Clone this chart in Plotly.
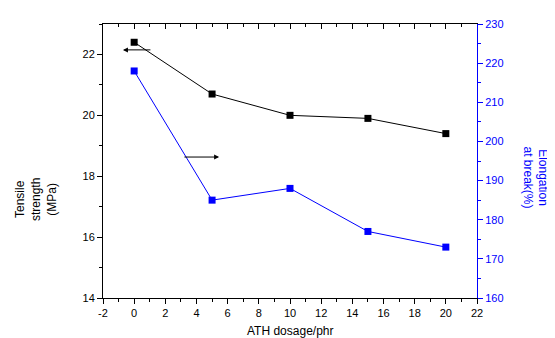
import plotly.graph_objects as go

dosage = [0, 5, 10, 15, 20]
tensile = [22.4, 20.7, 20.0, 19.9, 19.4]
elongation = [218, 185, 188, 177, 173]
x_ticks = [-2, 0, 2, 4, 6, 8, 10, 12, 14, 16, 18, 20, 22]
x_ticklabels = ["-2", "0", "2", "4", "6", "8", "10", "12", "14", "16", "18", "20", "22"]

FONT = "Liberation Sans, Arial, sans-serif"
BLUE = "#0000FF"

fig = go.Figure()
fig.add_trace(go.Scatter(x=dosage, y=tensile, mode="lines+markers",
                         line=dict(color="black", width=1),
                         marker=dict(symbol="square", size=7, color="black"),
                         showlegend=False))
fig.add_trace(go.Scatter(x=dosage, y=elongation, mode="lines+markers", yaxis="y2",
                         line=dict(color=BLUE, width=1),
                         marker=dict(symbol="square", size=7, color=BLUE),
                         showlegend=False))
# invisible trace to anchor the top axis
fig.add_trace(go.Scatter(x=[dosage[0]], y=[tensile[0]], xaxis="x2", mode="markers",
                         marker=dict(opacity=0), showlegend=False, hoverinfo="skip"))

axis_common = dict(showgrid=False, zeroline=False, showline=True, linewidth=1,
                   tickfont=dict(family=FONT, size=11))

fig.update_layout(
    width=547, height=330,
    margin=dict(l=95, r=78, t=10, b=40),
    plot_bgcolor="white", paper_bgcolor="white",
    font=dict(family=FONT, size=12, color="black"),
    xaxis=dict(range=[-2, 22], tickmode="array", tickvals=x_ticks, ticktext=x_ticklabels,
               ticks="outside", ticklen=5,
               tickcolor="black", linecolor="black",
               minor=dict(dtick=1, tick0=0, ticks="outside", ticklen=3, tickcolor="black"),
               **axis_common),
    xaxis2=dict(range=[-2, 22], overlaying="x", side="top", anchor="y", dtick=2, tick0=0,
                ticks="inside", ticklen=5, tickcolor="black", linecolor="black",
                showticklabels=False,
                minor=dict(dtick=1, ticks="inside", ticklen=3, tickcolor="black"),
                **axis_common),
    yaxis=dict(range=[14, 23], dtick=2, tick0=14, ticks="outside", ticklen=5,
               tickcolor="black", linecolor="black",
               minor=dict(dtick=1, ticks="outside", ticklen=3, tickcolor="black"),
               **axis_common),
    yaxis2=dict(range=[160, 230], dtick=10, tick0=160, overlaying="y", side="right",
                anchor="x", ticks="outside", ticklen=5, tickcolor=BLUE, linecolor=BLUE,
                minor=dict(dtick=5, ticks="outside", ticklen=3, tickcolor=BLUE),
                showgrid=False, zeroline=False, showline=True, linewidth=1,
                tickfont=dict(family=FONT, size=11, color=BLUE)),
)

fig.add_annotation(x=0.5, y=-0.122, xref="paper", yref="paper", xanchor="center", yanchor="middle",
                   text="ATH dosage/phr", showarrow=False,
                   font=dict(family=FONT, size=12, color="black"))
fig.add_annotation(x=-0.18, y=0.36, xref="paper", yref="paper", xanchor="center", yanchor="middle",
                   text="Tensile<br>strength<br>(MPa)", showarrow=False, textangle=-90,
                   font=dict(family=FONT, size=12, color="black"))
fig.add_annotation(x=1.155, y=0.44, xref="paper", yref="paper", xanchor="center", yanchor="middle",
                   text="Elongation<br>at break(%)", showarrow=False, textangle=90,
                   font=dict(family=FONT, size=12, color=BLUE))

# direction arrows
fig.add_annotation(x=-0.72, y=22.15, ax=1.14, ay=22.15, xref="x", yref="y", axref="x", ayref="y",
                   text="", showarrow=True, arrowhead=2, arrowsize=1, arrowwidth=1, arrowcolor="black")
fig.add_annotation(x=5.45, y=18.63, ax=3.13, ay=18.63, xref="x", yref="y", axref="x", ayref="y",
                   text="", showarrow=True, arrowhead=2, arrowsize=1, arrowwidth=1, arrowcolor="black")

fig.write_html("out.html")
